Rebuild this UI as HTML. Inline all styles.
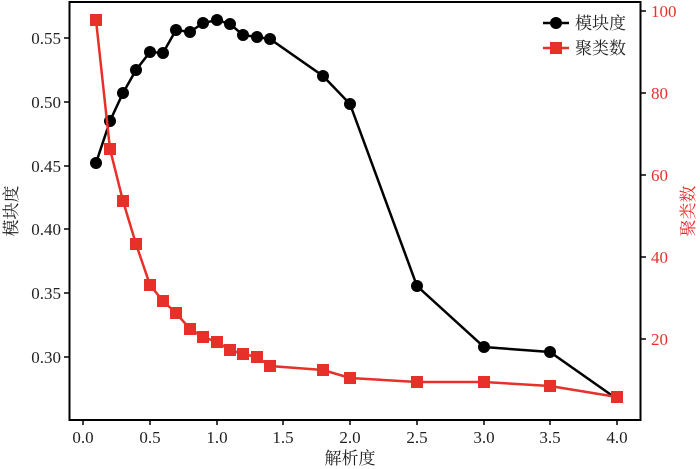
<!DOCTYPE html>
<html><head><meta charset="utf-8"><style>body{margin:0;background:#fff}svg{display:block}text{font-family:"Liberation Serif","Noto Serif CJK SC",serif}</style></head><body>
<svg width="700" height="469" viewBox="0 0 700 469" xmlns="http://www.w3.org/2000/svg">
<rect x="69.5" y="2" width="571" height="418" fill="none" stroke="#000" stroke-width="2"/>
<g stroke="#000" stroke-width="1.5">
<line x1="83" y1="420" x2="83" y2="425"/><line x1="150" y1="420" x2="150" y2="425"/><line x1="217" y1="420" x2="217" y2="425"/><line x1="283" y1="420" x2="283" y2="425"/><line x1="350" y1="420" x2="350" y2="425"/><line x1="417" y1="420" x2="417" y2="425"/><line x1="484" y1="420" x2="484" y2="425"/><line x1="550" y1="420" x2="550" y2="425"/><line x1="617" y1="420" x2="617" y2="425"/>
<line x1="64" y1="357" x2="69" y2="357"/><line x1="64" y1="293" x2="69" y2="293"/><line x1="64" y1="229" x2="69" y2="229"/><line x1="64" y1="166" x2="69" y2="166"/><line x1="64" y1="102" x2="69" y2="102"/><line x1="64" y1="38" x2="69" y2="38"/>
<line x1="641" y1="339" x2="646" y2="339"/><line x1="641" y1="257" x2="646" y2="257"/><line x1="641" y1="175" x2="646" y2="175"/><line x1="641" y1="93" x2="646" y2="93"/><line x1="641" y1="11" x2="646" y2="11"/>
</g>
<g font-size="17" text-anchor="middle" fill="#222">
<text x="83" y="443">0.0</text><text x="150" y="443">0.5</text><text x="217" y="443">1.0</text><text x="283" y="443">1.5</text><text x="350" y="443">2.0</text><text x="417" y="443">2.5</text><text x="484" y="443">3.0</text><text x="550" y="443">3.5</text><text x="617" y="443">4.0</text>
<text x="350" y="464">解析度</text>
</g>
<g font-size="17" text-anchor="end" fill="#222">
<text x="61" y="363">0.30</text><text x="61" y="299">0.35</text><text x="61" y="235">0.40</text><text x="61" y="172">0.45</text><text x="61" y="108">0.50</text><text x="61" y="44">0.55</text>
</g>
<g font-size="17" fill="#e8302a">
<text x="651" y="345">20</text><text x="651" y="263">40</text><text x="651" y="181">60</text><text x="651" y="99">80</text><text x="651" y="17">100</text>
</g>
<text transform="translate(17,211) rotate(-90)" font-size="17" text-anchor="middle" fill="#222">模块度</text>
<text transform="translate(694,211) rotate(-90)" font-size="17" text-anchor="middle" fill="#e8302a">聚类数</text>
<polyline fill="none" stroke="#000" stroke-width="2.5" points="96,163 110,121 123,93 136,70 150,52 163,53 176,30 190,32 203,23 217,20 230,24 243,35 257,37 270,39 323,76 350,104 417,286 484,347 550,352 617,399"/>
<g fill="#000">
<circle cx="96" cy="163" r="6"/><circle cx="110" cy="121" r="6"/><circle cx="123" cy="93" r="6"/><circle cx="136" cy="70" r="6"/><circle cx="150" cy="52" r="6"/><circle cx="163" cy="53" r="6"/><circle cx="176" cy="30" r="6"/><circle cx="190" cy="32" r="6"/><circle cx="203" cy="23" r="6"/><circle cx="217" cy="20" r="6"/><circle cx="230" cy="24" r="6"/><circle cx="243" cy="35" r="6"/><circle cx="257" cy="37" r="6"/><circle cx="270" cy="39" r="6"/><circle cx="323" cy="76" r="6"/><circle cx="350" cy="104" r="6"/><circle cx="417" cy="286" r="6"/><circle cx="484" cy="347" r="6"/><circle cx="550" cy="352" r="6"/>
</g>
<polyline fill="none" stroke="#e8302a" stroke-width="2.5" points="96,20 110,149 123,201 136,244 150,285 163,301 176,313 190,329 203,337 217,342 230,350 243,354 257,357 270,366 323,370 350,378 417,382 484,382 550,386 617,397"/>
<g fill="#e8302a">
<rect x="90" y="14" width="12" height="12"/><rect x="104" y="143" width="12" height="12"/><rect x="117" y="195" width="12" height="12"/><rect x="130" y="238" width="12" height="12"/><rect x="144" y="279" width="12" height="12"/><rect x="157" y="295" width="12" height="12"/><rect x="170" y="307" width="12" height="12"/><rect x="184" y="323" width="12" height="12"/><rect x="197" y="331" width="12" height="12"/><rect x="211" y="336" width="12" height="12"/><rect x="224" y="344" width="12" height="12"/><rect x="237" y="348" width="12" height="12"/><rect x="251" y="351" width="12" height="12"/><rect x="264" y="360" width="12" height="12"/><rect x="317" y="364" width="12" height="12"/><rect x="344" y="372" width="12" height="12"/><rect x="411" y="376" width="12" height="12"/><rect x="478" y="376" width="12" height="12"/><rect x="544" y="380" width="12" height="12"/><rect x="611" y="391" width="12" height="12"/>
</g>
<line x1="543" y1="23" x2="569" y2="23" stroke="#000" stroke-width="2.5"/><circle cx="556" cy="23" r="6" fill="#000"/>
<line x1="543" y1="48" x2="569" y2="48" stroke="#e8302a" stroke-width="2.5"/><rect x="550" y="42" width="12" height="12" fill="#e8302a"/>
<text x="575" y="29" font-size="17" fill="#222">模块度</text>
<text x="575" y="54" font-size="17" fill="#222">聚类数</text>
</svg>
</body></html>
